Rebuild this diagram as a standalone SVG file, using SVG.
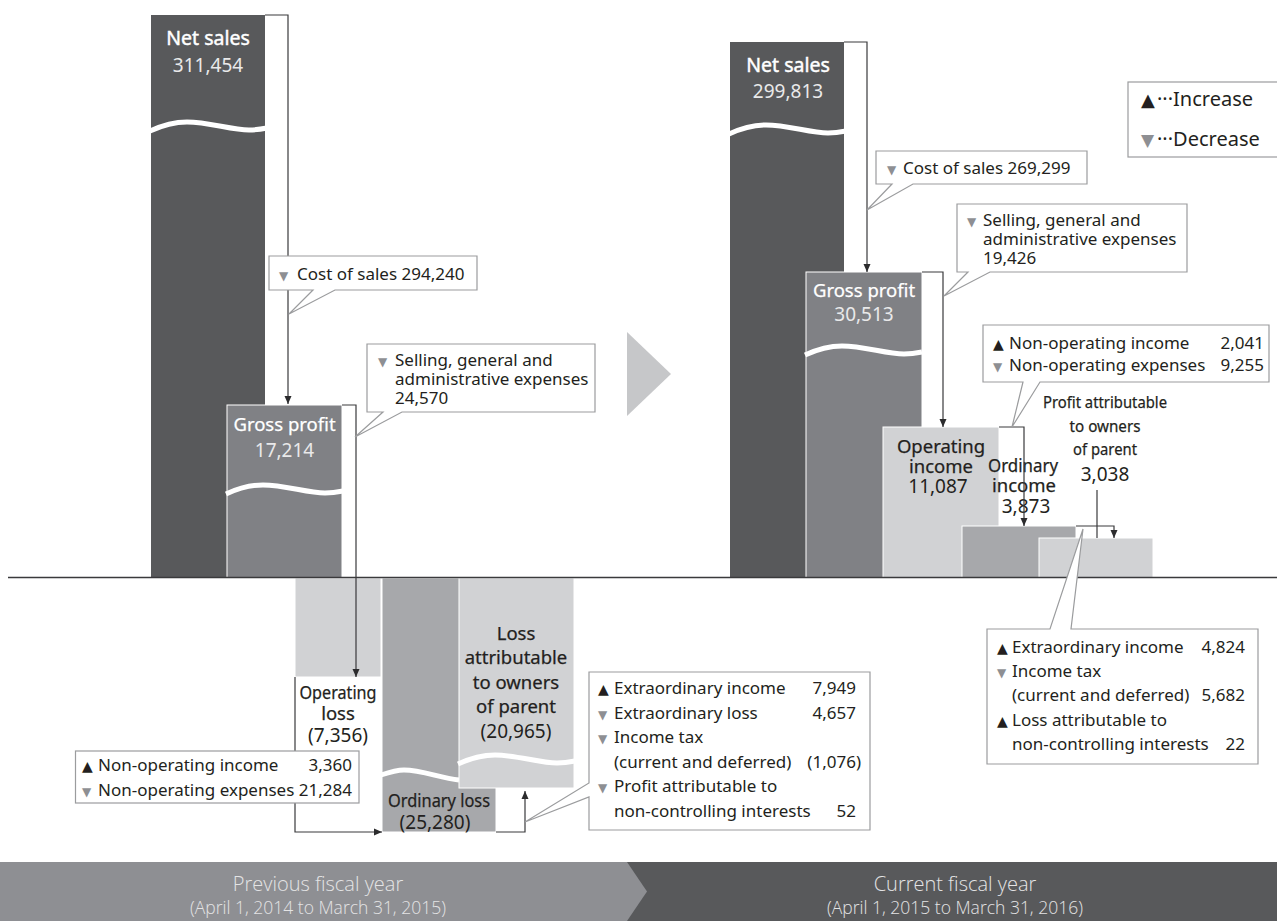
<svg xmlns="http://www.w3.org/2000/svg" width="1277" height="921" viewBox="0 0 1277 921">
  <defs>
    <style>
      .dark{fill:#58595b}
      .mid{fill:#808185}
      .gray{fill:#a7a8ab}
      .light{fill:#d1d2d4}
      .edge{stroke:#fff;stroke-width:1}
      .wave{fill:none;stroke:#fff;stroke-width:5}
      .flow{fill:none;stroke:#3a3a3c;stroke-width:1.2}
      .call{fill:#fff;stroke:#9b9c9e;stroke-width:1.2}
      text{font-family:"Noto Sans","Liberation Sans",sans-serif}
      .t{font-size:17px;fill:#231f20}
      .num{text-anchor:end}
      .mk{font-family:"DejaVu Sans",sans-serif;font-size:14px}
      .up{fill:#231f20}
      .dn{fill:#8e8f93;font-size:12px}
      .lw{font-size:19.5px;fill:#fff;text-anchor:middle}
      .lw .b{stroke:#fff;stroke-width:0.45}
      .lw .v{font-size:19px;fill:#e9e9ea;stroke:none}
      .ld{font-size:18.5px;fill:#231f20;text-anchor:middle}
      .ld .b{stroke:#231f20;stroke-width:0.25}
      .ld .v{font-size:19px;stroke:none}
      .ban{font-family:"Open Sans","Noto Sans",sans-serif;font-weight:300;fill:#e4e4e5;text-anchor:middle}
    </style>
    <!-- break marks across truncated bars -->
    <path id="wave" d="M-1,9 C12,3 22,0 36,0 C58,0 80,8 98,8 C106,8 111,7 116,6"/>
    <path id="wave-s" d="M-1,5 C8,2 14,0 22,0 C40,0 58,8 77,10"/>
    <marker id="ah" viewBox="0 0 8 8" refX="8" refY="4" markerWidth="8" markerHeight="8" markerUnits="userSpaceOnUse" orient="auto">
      <path d="M0,0.5 L8,4 L0,7.5 z" fill="#2b2b2d"/>
    </marker>
  </defs>

  <rect width="1277" height="921" fill="#fff"/>

  <!-- previous fiscal year bars -->
  <g id="net-sales-prev">
    <rect class="dark" x="151" y="15" width="114" height="563"/>
    <use href="#wave" class="wave" transform="translate(151,122)"/>
    <text class="lw"><tspan class="b" x="208" y="45">Net sales</tspan><tspan class="v" x="208" y="72">311,454</tspan></text>
  </g>
  <g id="gross-profit-prev">
    <rect class="mid edge" x="227" y="405" width="115" height="173"/>
    <use href="#wave" class="wave" transform="translate(227,485)"/>
    <text class="lw"><tspan class="b" x="284.5" y="431" style="font-size:18.5px;stroke-width:0.25">Gross profit</tspan><tspan class="v" x="284.5" y="457">17,214</tspan></text>
  </g>
  <g id="operating-loss-prev">
    <rect class="light edge" x="295" y="578" width="86" height="99"/>
    <text class="ld"><tspan class="b" x="338" y="699" textLength="77" lengthAdjust="spacingAndGlyphs">Operating</tspan><tspan class="b" x="338" y="720">loss</tspan><tspan class="v" x="338" y="742">(7,356)</tspan></text>
  </g>
  <g id="ordinary-loss-prev">
    <rect class="gray edge" x="382" y="578" width="114" height="254"/>
    <use href="#wave-s" class="wave" transform="translate(382,770)"/>
    <text class="ld"><tspan class="b" x="439" y="807" textLength="102" lengthAdjust="spacingAndGlyphs">Ordinary loss</tspan><tspan class="v" x="435" y="829">(25,280)</tspan></text>
  </g>
  <g id="loss-owners-prev">
    <rect class="light edge" x="459" y="578" width="115" height="210"/>
    <use href="#wave" class="wave" transform="translate(459,755)"/>
    <text class="ld"><tspan class="b" x="516" y="640">Loss</tspan><tspan class="b" x="516" y="664">attributable</tspan><tspan class="b" x="516" y="689">to owners</tspan><tspan class="b" x="516" y="713">of parent</tspan><tspan class="v" x="516" y="738">(20,965)</tspan></text>
  </g>

  <!-- current fiscal year bars -->
  <g id="net-sales-cur">
    <rect class="dark" x="730" y="42" width="114" height="536"/>
    <use href="#wave" class="wave" transform="translate(730,125)"/>
    <text class="lw"><tspan class="b" x="788" y="72">Net sales</tspan><tspan class="v" x="788" y="98">299,813</tspan></text>
  </g>
  <g id="gross-profit-cur">
    <rect class="mid edge" x="806" y="272" width="116" height="306"/>
    <use href="#wave" class="wave" transform="translate(806,346)"/>
    <text class="lw"><tspan class="b" x="864" y="297" style="font-size:18.5px;stroke-width:0.25">Gross profit</tspan><tspan class="v" x="864" y="321">30,513</tspan></text>
  </g>
  <g id="operating-income-cur">
    <rect class="light edge" x="883" y="427" width="116" height="151"/>
    <text class="ld"><tspan class="b" x="941" y="453">Operating</tspan><tspan class="b" x="941" y="473">income</tspan><tspan class="v" x="938" y="493">11,087</tspan></text>
  </g>
  <g id="ordinary-income-cur">
    <rect class="gray edge" x="962" y="526" width="114" height="52"/>
    <text class="ld"><tspan class="b" x="1023" y="472" textLength="70" lengthAdjust="spacingAndGlyphs">Ordinary</tspan><tspan class="b" x="1024" y="492">income</tspan><tspan class="v" x="1026" y="513">3,873</tspan></text>
  </g>
  <g id="profit-owners-cur">
    <rect class="light edge" x="1039" y="538" width="114" height="40"/>
    <text class="ld" style="font-size:17px"><tspan class="b" x="1105" y="408" textLength="124" lengthAdjust="spacingAndGlyphs">Profit attributable</tspan><tspan class="b" x="1105" y="432" textLength="71" lengthAdjust="spacingAndGlyphs">to owners</tspan><tspan class="b" x="1105" y="455" textLength="64" lengthAdjust="spacingAndGlyphs">of parent</tspan><tspan class="v" x="1105" y="481">3,038</tspan></text>
  </g>

  <!-- zero line -->
  <g id="axis">
    <path d="M8,577.5 H1277" stroke="#3a3a3c" stroke-width="1.3" fill="none"/>
  </g>

  <!-- year-to-year arrow -->
  <g id="period-arrow">
    <polygon points="627,332 671,374 627,416" fill="#c6c7c9"/>
  </g>

  <!-- flow connectors -->
  <g id="connectors">
    <path class="flow" d="M265,15 H288 V404" marker-end="url(#ah)"/>
    <path class="flow" d="M342,405 H356 V677" marker-end="url(#ah)"/>
    <path class="flow" d="M295,677 V832 H382" marker-end="url(#ah)"/>
    <path class="flow" d="M496,832 H525 V791" marker-end="url(#ah)"/>
    <path class="flow" d="M844,42 H867 V272" marker-end="url(#ah)"/>
    <path class="flow" d="M922,272 H943 V427" marker-end="url(#ah)"/>
    <path class="flow" d="M999,427 H1024 V526" marker-end="url(#ah)"/>
    <path class="flow" d="M1076,526 H1114 V538" marker-end="url(#ah)"/>
    <path class="flow" d="M1097,490 V538"/>
  </g>

  <!-- callouts, previous year -->
  <g id="cost-of-sales-prev">
    <path class="call" d="M269,256 H477 V290 H335 L289,314 L313,290 H269 Z"/>
    <text class="t" y="280"><tspan class="mk dn" x="279">▼</tspan><tspan x="297">Cost of sales 294,240</tspan></text>
  </g>
  <g id="sga-prev">
    <path class="call" d="M367,344 H595 V412 H402 L355,437 L383,412 H367 Z"/>
    <text class="t"><tspan class="mk dn" x="378" y="366">▼</tspan><tspan x="395" y="366">Selling, general and</tspan><tspan x="395" y="385">administrative expenses</tspan><tspan x="395" y="404">24,570</tspan></text>
  </g>
  <g id="non-operating-prev">
    <rect class="call" x="75.5" y="751" width="283.5" height="52"/>
    <text class="t" y="771"><tspan class="mk up" x="82">▲</tspan><tspan x="98">Non-operating income</tspan></text>
    <text class="t num" x="352" y="771">3,360</text>
    <text class="t" y="796"><tspan class="mk dn" x="82">▼</tspan><tspan x="98">Non-operating expenses</tspan></text>
    <text class="t num" x="352" y="796">21,284</text>
  </g>
  <g id="extraordinary-prev">
    <path class="call" d="M589,672 H870 V830 H589 V797 L525,822 L589,783 Z"/>
    <text class="t" y="694"><tspan class="mk up" x="598">▲</tspan><tspan x="614">Extraordinary income</tspan></text>
    <text class="t num" x="856" y="694">7,949</text>
    <text class="t" y="718.6"><tspan class="mk dn" x="598">▼</tspan><tspan x="614">Extraordinary loss</tspan></text>
    <text class="t num" x="856" y="718.6">4,657</text>
    <text class="t"><tspan class="mk dn" x="598" y="743.2">▼</tspan><tspan x="614" y="743.2">Income tax</tspan><tspan x="614" y="767.8">(current and deferred)</tspan></text>
    <text class="t num" x="861" y="767.8">(1,076)</text>
    <text class="t"><tspan class="mk dn" x="598" y="792.4">▼</tspan><tspan x="614" y="792.4">Profit attributable to</tspan><tspan x="614" y="817">non-controlling interests</tspan></text>
    <text class="t num" x="856" y="817">52</text>
  </g>

  <!-- callouts, current year -->
  <g id="cost-of-sales-cur">
    <path class="call" d="M876,151 H1087 V184 H913 L867,210 L892,184 H876 Z"/>
    <text class="t" y="174"><tspan class="mk dn" x="887">▼</tspan><tspan x="903">Cost of sales 269,299</tspan></text>
  </g>
  <g id="sga-cur">
    <path class="call" d="M957,204 H1187 V272 H990 L944,296 L968,272 H957 Z"/>
    <text class="t"><tspan class="mk dn" x="967" y="226">▼</tspan><tspan x="983" y="226">Selling, general and</tspan><tspan x="983" y="245">administrative expenses</tspan><tspan x="983" y="264">19,426</tspan></text>
  </g>
  <g id="non-operating-cur">
    <path class="call" d="M983,325 H1269 V382 H1040 L1012,427 L1023,382 H983 Z"/>
    <text class="t" y="349"><tspan class="mk up" x="993">▲</tspan><tspan x="1009">Non-operating income</tspan></text>
    <text class="t num" x="1264" y="349">2,041</text>
    <text class="t" y="371"><tspan class="mk dn" x="993">▼</tspan><tspan x="1009">Non-operating expenses</tspan></text>
    <text class="t num" x="1264" y="371">9,255</text>
  </g>
  <g id="extraordinary-cur">
    <path class="call" d="M987,629 H1050 L1083,529 L1071,629 H1258 V764 H987 Z"/>
    <text class="t" y="653"><tspan class="mk up" x="997">▲</tspan><tspan x="1012">Extraordinary income</tspan></text>
    <text class="t num" x="1245" y="653">4,824</text>
    <text class="t"><tspan class="mk dn" x="997" y="677">▼</tspan><tspan x="1012" y="677">Income tax</tspan><tspan x="1012" y="701">(current and deferred)</tspan></text>
    <text class="t num" x="1245" y="701">5,682</text>
    <text class="t"><tspan class="mk up" x="997" y="726">▲</tspan><tspan x="1012" y="726">Loss attributable to</tspan><tspan x="1012" y="750">non-controlling interests</tspan></text>
    <text class="t num" x="1245" y="750">22</text>
  </g>

  <!-- legend -->
  <g id="legend">
    <rect class="call" x="1128" y="82" width="160" height="75"/>
    <text class="t" style="font-size:20px" y="106"><tspan class="mk up" x="1141" style="font-size:18px">▲</tspan><tspan x="1157">···Increase</tspan></text>
    <text class="t" style="font-size:20px" y="146"><tspan class="mk dn" x="1141" style="font-size:17px">▼</tspan><tspan x="1157">···Decrease</tspan></text>
  </g>

  <!-- period banner -->
  <g id="period-banner">
    <rect x="0" y="862" width="1277" height="59" fill="#58595b"/>
    <polygon points="0,862 627,862 647,891.5 627,921 0,921" fill="#8e8f93"/>
    <text class="ban" x="318" y="891" font-size="20">Previous fiscal year</text>
    <text class="ban" x="318" y="914" font-size="17.5">(April 1, 2014 to March 31, 2015)</text>
    <text class="ban" x="955" y="891" font-size="20">Current fiscal year</text>
    <text class="ban" x="955" y="914" font-size="17.5">(April 1, 2015 to March 31, 2016)</text>
  </g>
</svg>
